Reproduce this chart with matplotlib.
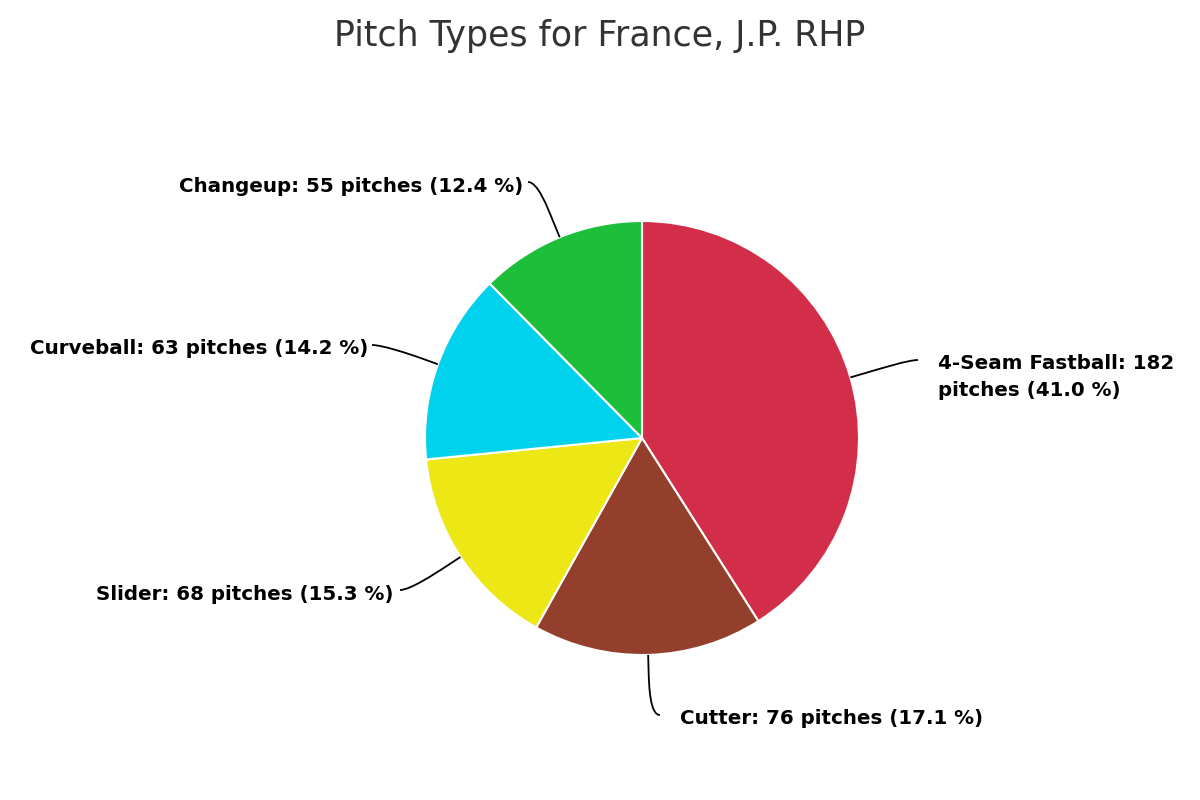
import matplotlib
matplotlib.use("Agg")
import matplotlib.pyplot as plt
import numpy as np
from matplotlib.path import Path
from matplotlib.patches import PathPatch

pitch_types = ["4-Seam Fastball", "Cutter", "Slider", "Curveball", "Changeup"]
counts = [182, 76, 68, 63, 55]
colors = ["#D22D49", "#933F2C", "#EDE815", "#00D1ED", "#1DBE3A"]
title = "Pitch Types for France, J.P. RHP"

W, H = 1200, 800
fig = plt.figure(figsize=(12, 8), dpi=100)
ax = fig.add_axes([0, 0, 1, 1])

cx, cy_pix, r = 642, 438, 217
cy = H - cy_pix

total = sum(counts)
ax.pie(counts, colors=colors, startangle=90, counterclock=False,
       center=(cx, cy), radius=r, frame=True,
       wedgeprops=dict(edgecolor="white", linewidth=1.5))
ax.set_xlim(0, W)
ax.set_ylim(0, H)
ax.set_aspect("equal")
ax.axis("off")

# connector end (pixels from top), alignment, text anchor
anchors = [(918, 360, "left", 938, 354),
           (660, 715, "left", 680, 718),
           (400, 590, "right", 394, 594),
           (372, 345, "right", 368, 348),
           (528, 182, "right", 523, 186)]

cum = 0
for i, (name, c) in enumerate(zip(pitch_types, counts)):
    frac = c / total
    mid = (cum + frac / 2) * 2 * np.pi
    cum += frac
    dx, dy = np.sin(mid), np.cos(mid)
    p3 = (cx + r * dx, cy + r * dy)
    p2 = (cx + (r + 16) * dx, cy + (r + 16) * dy)
    exp, eyp, al, tx, ty = anchors[i]
    ex, ey = exp, H - eyp
    sgn = -1 if al == "left" else 1
    c1 = (ex + sgn * 10, ey)
    c2 = (2 * p2[0] - p3[0], 2 * p2[1] - p3[1])
    verts = [(ex, ey), c1, c2, p2, p3]
    codes = [Path.MOVETO, Path.CURVE4, Path.CURVE4, Path.CURVE4, Path.LINETO]
    ax.add_patch(PathPatch(Path(verts, codes), fill=False, edgecolor="black", lw=1.3))
    pct = f"{100 * c / total:.1f}"
    if i == 0:
        label = f"{name}: {c}\npitches ({pct} %)"
        ax.text(tx, H - ty, label, ha="left", va="top", fontsize=14.3,
                fontweight="bold", linespacing=1.5, color="black")
    else:
        label = f"{name}: {c} pitches ({pct} %)"
        ax.text(tx, H - ty, label, ha=al, va="center", fontsize=14.3,
                fontweight="bold", color="black")

ax.text(600, H - 36, title, ha="center", va="center", fontsize=25, color="#333333")

fig.savefig("out.png", dpi=100)
